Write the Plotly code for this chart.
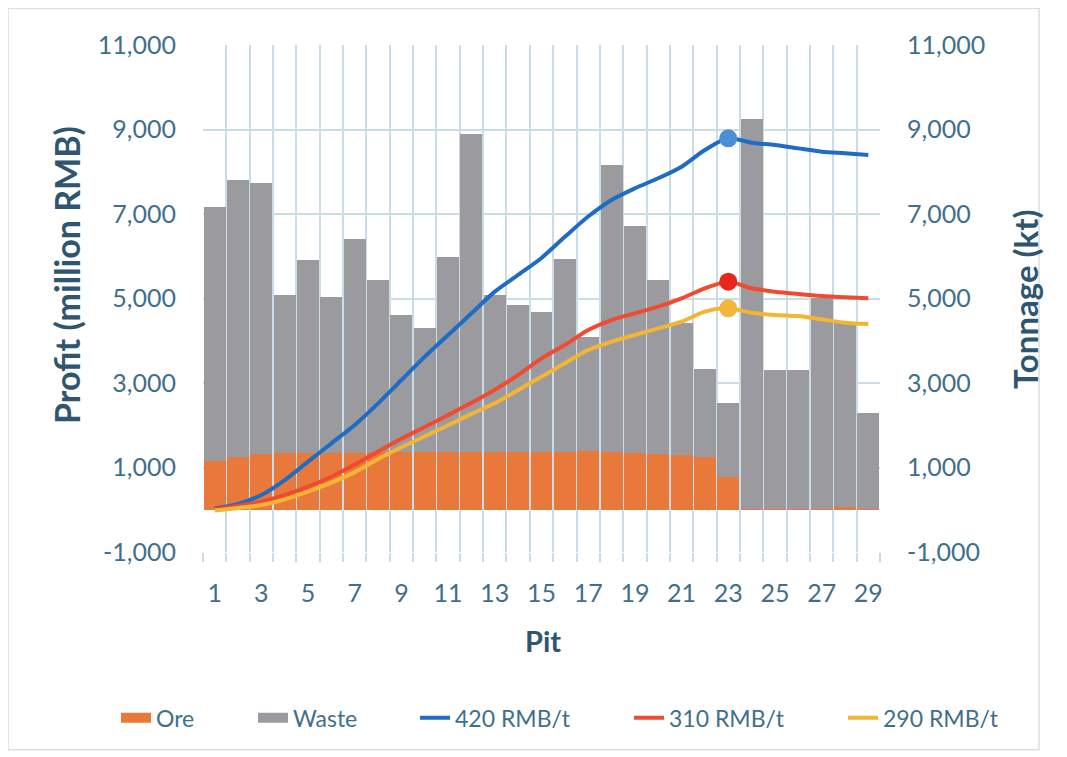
import plotly.graph_objects as go

pits = list(range(1, 30))
tick_pits = list(range(1, 30, 2))
y_ticks = [-1000, 1000, 3000, 5000, 7000, 9000, 11000]
y_tick_text = ["-1,000", "1,000", "3,000", "5,000", "7,000", "9,000", "11,000"]

ore = [1154, 1256, 1330, 1350, 1340, 1350, 1350, 1360, 1360, 1360, 1360, 1370, 1360, 1360, 1360,
       1360, 1400, 1375, 1335, 1310, 1296, 1256, 767, 15, 15, 15, 20, 75, 10]
total_tonnage = [7173, 7800, 7740, 5077, 5911, 5030, 6401, 5432, 4604, 4296, 5990, 8893, 5080, 4846, 4680,
                 5930, 4090, 8160, 6710, 5430, 4420, 3330, 2534, 9248, 3308, 3308, 5004, 4418, 2297]
waste = [t - o for t, o in zip(total_tonnage, ore)]

profit_420 = [30, 136, 349, 704, 1138, 1572, 2006, 2519, 3071, 3623, 4136, 4649, 5162, 5560, 5960,
              6460, 6940, 7332, 7608, 7845, 8120, 8515, 8791, 8688, 8633, 8553, 8475, 8436, 8396]
profit_310 = [10, 90, 191, 349, 546, 780, 1070, 1380, 1680, 1960, 2240, 2530, 2840, 3190, 3583,
              3900, 4254, 4491, 4649, 4807, 5004, 5241, 5398, 5241, 5162, 5107, 5059, 5028, 5004]
profit_290 = [-20, 40, 112, 246, 428, 640, 890, 1200, 1480, 1740, 2000, 2270, 2519, 2834, 3150,
              3466, 3781, 3978, 4136, 4293, 4451, 4688, 4767, 4665, 4609, 4586, 4507, 4428, 4397]
best_pit = 23

FONT = "Lato"
TICK_COLOR = "#3f6f8c"
TITLE_COLOR = "#2e5670"
GRID = "#c9dde9"
ORE_C = "#e8793a"
WASTE_C = "#9b9b9f"

fig = go.Figure()
# tonnage bars (primary axis carries the same -1000..11000 scale)
fig.add_trace(go.Bar(x=pits, y=ore, name="Ore", marker=dict(color=ORE_C, line=dict(width=0)),
                     showlegend=False))
fig.add_trace(go.Bar(x=pits, y=waste, name="Waste", marker=dict(color=WASTE_C, line=dict(width=0)),
                     showlegend=False))
# legend swatches for the bars
fig.add_trace(go.Scatter(x=[None], y=[None], mode="lines", name="Ore",
                         line=dict(color=ORE_C, width=13), legend="legend"))
fig.add_trace(go.Scatter(x=[None], y=[None], mode="lines", name="Waste",
                         line=dict(color=WASTE_C, width=13), legend="legend2"))

line_specs = [
    ("420 RMB/t", profit_420, "#1f6cc4", "#4c8fd6", "legend3"),
    ("310 RMB/t", profit_310, "#f04a30", "#e8261c", "legend4"),
    ("290 RMB/t", profit_290, "#f5b534", "#f2b63a", "legend5"),
]
for name, vals, lc, mc, lg in line_specs:
    fig.add_trace(go.Scatter(x=pits, y=vals, name=name, mode="lines", yaxis="y2", legend=lg,
                             line=dict(color=lc, width=4, shape="spline", smoothing=0.8)))
for name, vals, lc, mc, lg in line_specs:
    i = pits.index(best_pit)
    fig.add_trace(go.Scatter(x=[pits[i]], y=[vals[i]], mode="markers", showlegend=False, yaxis="y2",
                             marker=dict(color=mc, size=18)))

yaxis_common = dict(range=[-1000, 11000], tickmode="array", tickvals=y_ticks, ticktext=y_tick_text,
                    tickfont=dict(family=FONT, size=25, color=TICK_COLOR),
                    zeroline=False, ticks="", ticklabelstandoff=26, automargin=False)

leg_font = dict(family=FONT, size=23, color=TICK_COLOR)
leg_y = -0.327
def leg(xpx):
    return dict(orientation="h", x=(xpx - 203) / 677, xanchor="left", y=leg_y, yanchor="middle",
                font=leg_font, bgcolor="rgba(0,0,0,0)")

fig.update_layout(
    width=1059, height=749,
    margin=dict(l=195, r=187, t=37, b=205, autoexpand=False),
    paper_bgcolor="white", plot_bgcolor="white",
    barmode="stack", bargap=0.06,
    font=dict(family=FONT, color=TICK_COLOR),
    xaxis=dict(range=[0.5, 29.5], tickmode="array", tickvals=tick_pits,
               ticktext=[str(p) for p in tick_pits],
               tickfont=dict(family=FONT, size=25, color=TICK_COLOR),
               showgrid=False, zeroline=False, showline=False, ticks="", automargin=False,
               ticklabelstandoff=24,
               minor=dict(tick0=0.5, dtick=1, showgrid=True, gridcolor=GRID, gridwidth=1.5,
                          ticks="outside", ticklen=9, tickcolor=GRID, tickwidth=1.5)),
    yaxis=dict(**yaxis_common, showgrid=True, gridcolor=GRID, gridwidth=1.5),
    yaxis2=dict(**yaxis_common, overlaying="y", side="right", showgrid=False),
    legend=leg(116), legend2=leg(253), legend3=leg(415), legend4=leg(629), legend5=leg(843),
    annotations=[
        dict(text="<b>Profit (million RMB)</b>", xref="paper", yref="paper", x=(66 - 203) / 677,
             y=(552 - 275) / 507, textangle=-90, showarrow=False, xanchor="center", yanchor="middle",
             font=dict(family=FONT, size=34, color=TITLE_COLOR)),
        dict(text="<b>Tonnage (kt)</b>", xref="paper", yref="paper", x=(1025 - 203) / 677,
             y=(552 - 299) / 507, textangle=-90, showarrow=False, xanchor="center", yanchor="middle",
             font=dict(family=FONT, size=33, color=TITLE_COLOR)),
        dict(text="<b>Pit</b>", xref="paper", yref="paper", x=(543 - 203) / 677,
             y=(552 - 640) / 507, showarrow=False, xanchor="center", yanchor="middle",
             font=dict(family=FONT, size=29, color=TITLE_COLOR)),
    ],
    shapes=[dict(type="rect", xref="paper", yref="paper", x0=-0.288, x1=1.235, y0=-0.39, y1=1.072,
                 line=dict(color="#dedede", width=1.5), layer="below")],
)

fig.write_html("out.html")
